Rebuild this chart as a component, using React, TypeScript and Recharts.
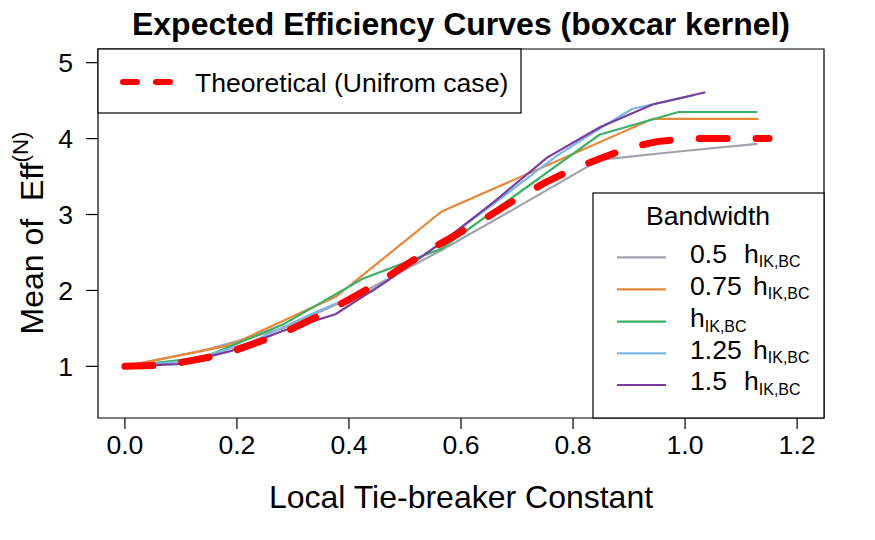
import { Line, LineChart, ReferenceArea, XAxis, YAxis } from 'recharts';

// Values. Each bandwidth was evaluated on its own grid.
const xGridA = [0, 0.141, 0.282, 0.4235, 0.565, 0.706, 0.847, 0.988, 1.129];
const xGridB = [0, 0.1885, 0.377, 0.5655, 0.754, 0.9425, 1.131];
const xGridC = [0, 0.113, 0.226, 0.339, 0.378, 0.44, 0.55, 0.66, 0.77, 0.847, 0.905, 1.015];
const xGridD = [0, 0.0942, 0.1884, 0.2826, 0.3768, 0.471, 0.5652, 0.6594, 0.7536, 0.8478, 0.942, 1.0362];
const xTheory = [0, 0.05, 0.1, 0.15, 0.2, 0.25, 0.3, 0.35, 0.4, 0.45, 0.5, 0.55, 0.6, 0.65, 0.7, 0.75, 0.8, 0.85, 0.9, 0.95, 1.0, 1.05, 1.1, 1.15];

const effHalf = [1.0, 1.21, 1.5, 1.97, 2.53, 3.12, 3.72, 3.83, 3.93];
const effThreeQuarter = [1.0, 1.28, 1.92, 3.04, 3.65, 4.26, 4.26];
const effOne = [1.0, 1.12, 1.55, 2.15, 2.55, 3.3, 4.05, 4.35, 4.35];
const effOneQuarter = [1.0, 1.07, 1.32, 1.71, 1.83, 1.98, 2.55, 3.15, 3.77, 4.13, 4.39, 4.57];
const effOneHalf = [1.0, 1.03, 1.2, 1.47, 1.69, 2.14, 2.63, 3.17, 3.75, 4.15, 4.45, 4.61];
const effTheory = [1.0, 1.01, 1.05, 1.12, 1.22, 1.35, 1.5, 1.68, 1.88, 2.09, 2.33, 2.56, 2.77, 2.98, 3.21, 3.42, 3.6, 3.74, 3.88, 3.96, 4.0, 4.0, 4.0, 4.0];

const xTicks = [0, 0.2, 0.4, 0.6, 0.8, 1.0, 1.2];
const yTicks = [1, 2, 3, 4, 5];
const bandwidthMultipliers = ['0.5', '0.75', '', '1.25', '1.5'];

const COLORS = ['#A0A4AA', '#E8883A', '#3DAF66', '#7DB7E6', '#7A3D9E'];
const FONT = '"Liberation Sans", Arial, Helvetica, sans-serif';

const toPoints = (xs: number[], ys: number[]) => xs.map((x, i) => ({ x, y: ys[i] }));

const SERIES = [
  toPoints(xGridA, effHalf),
  toPoints(xGridB, effThreeQuarter),
  toPoints(xGridA, effOne),
  toPoints(xGridC, effOneQuarter),
  toPoints(xGridD, effOneHalf),
];
const THEORY = toPoints(xTheory, effTheory);

// R pads the axis range by 4% on each side: xlim c(0, 1.2), ylim c(0.5, 5).
const X_DOMAIN: [number, number] = [-0.048, 1.248];
const Y_DOMAIN: [number, number] = [0.32, 5.18];

function Overlay() {
  const rowY = [257.3, 289.3, 321.7, 353.3, 385];
  return (
    <svg
      width={875}
      height={540}
      style={{ position: 'absolute', left: 0, top: 0, pointerEvents: 'none' }}
      fontFamily={FONT}
    >
      <text x={461} y={35} textAnchor="middle" fontSize={32} fontWeight="bold" fill="#000">
        Expected Efficiency Curves (boxcar kernel)
      </text>
      <text x={461} y={508} textAnchor="middle" fontSize={32} fill="#000">
        Local Tie-breaker Constant
      </text>
      <text
        x={43}
        y={233}
        textAnchor="middle"
        fontSize={32}
        fill="#000"
        transform="rotate(-90 43 233)"
        style={{ whiteSpace: 'pre' }}
      >
        {'Mean of  Eff'}
        <tspan dy={-15} fontSize={22.4}>(N)</tspan>
      </text>

      {/* theoretical legend */}
      <rect x={98} y={49} width={423} height={64} fill="#fff" stroke="#000" strokeWidth={1.2} />
      <line
        x1={123}
        y1={82}
        x2={170}
        y2={82}
        stroke="#FF0000"
        strokeWidth={6}
        strokeDasharray="14 19"
        strokeLinecap="round"
      />
      <text x={195} y={91.5} fontSize={26.6} fill="#000">
        Theoretical (Unifrom case)
      </text>

      {/* bandwidth legend */}
      <rect x={593} y={193} width={231} height={225} fill="#fff" stroke="#000" strokeWidth={1.2} />
      <text x={708} y={225} textAnchor="middle" fontSize={26.6} fill="#000">
        Bandwidth
      </text>
      {bandwidthMultipliers.map((m, i) => {
        const hx = m === '' ? 690 : m.length > 3 ? 753 : 744;
        return (
          <g key={i}>
            <line x1={617} y1={rowY[i]} x2={666} y2={rowY[i]} stroke={COLORS[i]} strokeWidth={2.2} />
            <text x={690} y={rowY[i] + 5.4} fontSize={26.6} fill="#000">
              {m}
              <tspan x={hx}>h</tspan>
              <tspan dy={4.6} fontSize={16}>IK,BC</tspan>
            </text>
          </g>
        );
      })}
    </svg>
  );
}

export default function App() {
  return (
    <div
      style={{
        position: 'absolute',
        left: 0,
        top: 0,
        width: 875,
        height: 540,
        background: '#fff',
        fontFamily: FONT,
      }}
    >
      <LineChart width={875} height={540} margin={{ top: 49, right: 51, bottom: 72, left: 38 }}>
        <XAxis
          dataKey="x"
          type="number"
          domain={X_DOMAIN}
          allowDataOverflow
          ticks={xTicks}
          tickFormatter={(v: number) => v.toFixed(1)}
          axisLine={false}
          tickLine={{ stroke: '#000', strokeWidth: 1.2 }}
          tickSize={11}
          tickMargin={6}
          height={50}
          interval={0}
          tick={{ fontSize: 26.6, fill: '#000', fontFamily: FONT }}
        />
        <YAxis
          dataKey="y"
          type="number"
          domain={Y_DOMAIN}
          allowDataOverflow
          ticks={yTicks}
          axisLine={false}
          tickLine={{ stroke: '#000', strokeWidth: 1.2 }}
          tickSize={12}
          tickMargin={13}
          width={60}
          interval={0}
          tick={{ fontSize: 26.6, fill: '#000', fontFamily: FONT }}
        />
        {SERIES.map((data, i) => (
          <Line
            key={i}
            data={data}
            dataKey="y"
            type="linear"
            stroke={COLORS[i]}
            strokeWidth={2.2}
            dot={false}
            activeDot={false}
            isAnimationActive={false}
          />
        ))}
        <Line
          data={THEORY}
          dataKey="y"
          type="linear"
          stroke="#FF0000"
          strokeWidth={7}
          strokeDasharray="28 29"
          strokeLinecap="round"
          dot={false}
          activeDot={false}
          isAnimationActive={false}
        />
        <ReferenceArea
          x1={X_DOMAIN[0]}
          x2={X_DOMAIN[1]}
          y1={Y_DOMAIN[0]}
          y2={Y_DOMAIN[1]}
          fill="none"
          stroke="#000"
          strokeWidth={1.2}
          ifOverflow="visible"
        />
      </LineChart>
      <Overlay />
    </div>
  );
}
